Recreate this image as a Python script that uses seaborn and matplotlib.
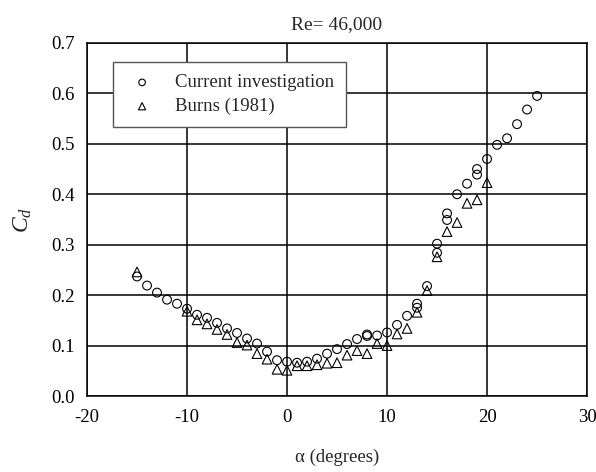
import numpy as np
import pandas as pd
import seaborn as sns
import matplotlib
matplotlib.use("Agg")
import matplotlib.pyplot as plt

# Current investigation (open circles)
alpha_cur = [-15, -14, -13, -12, -11, -10, -9, -8, -7, -6, -5, -4, -3, -2, -1,
             0, 1, 2, 3, 4, 5, 6, 7, 8, 8, 9, 10, 11, 12, 13, 13, 14,
             15, 15, 16, 16, 17, 18, 19, 19, 20, 21, 22, 23, 24, 25]
cd_cur = [0.237, 0.219, 0.205, 0.191, 0.183, 0.173, 0.161, 0.155, 0.145, 0.134,
          0.125, 0.114, 0.104, 0.088, 0.071,
          0.068, 0.066, 0.068, 0.074, 0.084, 0.093, 0.103, 0.113, 0.122, 0.119,
          0.120, 0.126, 0.141, 0.159, 0.183, 0.175, 0.218,
          0.302, 0.284, 0.362, 0.349, 0.400, 0.421, 0.450, 0.439,
          0.470, 0.498, 0.511, 0.539, 0.568, 0.595]

# Burns (1981) (open triangles)
alpha_burns = [-15, -10, -9, -8, -7, -6, -5, -4, -3, -2, -1, 0, 1, 2, 3, 4, 5,
               6, 7, 8, 9, 10, 11, 12, 13, 14, 15, 16, 17, 18, 19, 20]
cd_burns = [0.246, 0.168, 0.151, 0.143, 0.132, 0.122, 0.106, 0.101, 0.084,
            0.073, 0.053, 0.051, 0.060, 0.060, 0.062, 0.065, 0.066,
            0.081, 0.090, 0.084, 0.104, 0.100, 0.123, 0.134, 0.166, 0.209,
            0.276, 0.326, 0.344, 0.382, 0.389, 0.423]

x_ticks = [-20, -10, 0, 10, 20, 30]
y_ticks = [0.0, 0.1, 0.2, 0.3, 0.4, 0.5, 0.6, 0.7]

df_cur = pd.DataFrame({"alpha": alpha_cur, "cd": cd_cur})
df_burns = pd.DataFrame({"alpha": alpha_burns, "cd": cd_burns})

sns.set_style("white")
plt.rcParams["font.family"] = ["Liberation Serif", "DejaVu Serif"]
plt.rcParams["mathtext.fontset"] = "custom"
plt.rcParams["mathtext.it"] = "Liberation Serif:italic"
plt.rcParams["mathtext.rm"] = "Liberation Serif"
plt.rcParams["axes.unicode_minus"] = False

fs = 13.5

fig = plt.figure(figsize=(5.96, 4.72), dpi=100)
ax = fig.add_axes([0.146, 0.161, 0.839, 0.748])

sns.scatterplot(data=df_cur, x="alpha", y="cd", ax=ax, marker="o", s=40,
                color="black", facecolors="none", edgecolors="black",
                linewidth=0.8, label="Current investigation", zorder=3)
sns.scatterplot(data=df_burns, x="alpha", y="cd", ax=ax, marker="^", s=48,
                color="black", facecolors="none", edgecolors="black",
                linewidth=0.8, label="Burns (1981)", zorder=3)

ax.set_xlim(-20, 30)
ax.set_ylim(0, 0.7)
ax.set_xticks(x_ticks)
ax.set_yticks(y_ticks)
ax.set_yticklabels([f"{v:.1f}" for v in y_ticks])
ax.grid(True, color="black", linewidth=1.1)
ax.set_axisbelow(True)
for sp in ax.spines.values():
    sp.set_color("black")
    sp.set_linewidth(1.1)
ax.tick_params(direction="inout", length=8, width=1, colors="black",
               labelsize=fs, pad=5)

ax.set_title("Re= 46,000", fontsize=14, pad=10)
ax.set_xlabel("\u03b1 (degrees)", fontsize=fs, labelpad=17)
ax.set_ylabel(r"$C_d$", fontsize=17, labelpad=12)

leg = ax.legend(loc="upper left", bbox_to_anchor=(0.052, 0.946),
                borderaxespad=0, fontsize=fs, fancybox=False, framealpha=1,
                edgecolor="#555555", markerscale=0.75, handlelength=1.8,
                handletextpad=0.85, borderpad=0.65, labelspacing=0.35)
leg.get_frame().set_linewidth(1.0)

fig.savefig("out.png", dpi=100)
